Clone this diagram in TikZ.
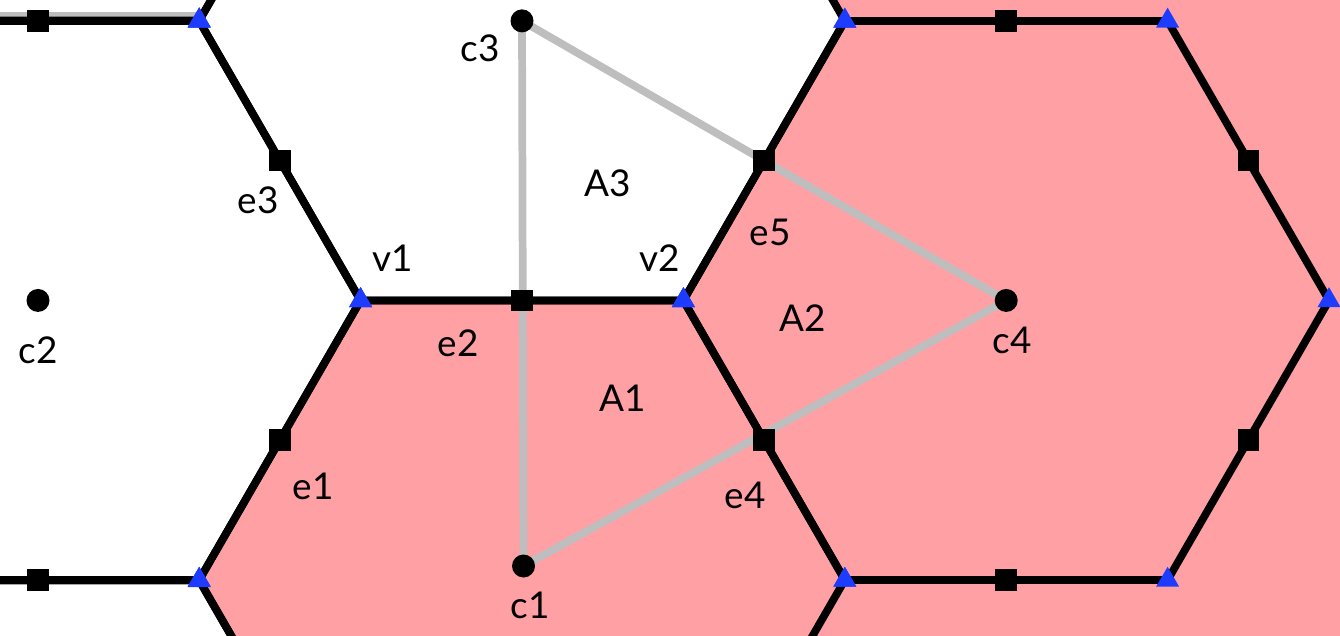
\documentclass[tikz,border=0pt]{standalone}
\usepackage{fontspec}
\setmainfont{Lato}
\usetikzlibrary{shapes.geometric,calc}
\definecolor{cellpink}{RGB}{255,160,165}
\definecolor{linkgray}{RGB}{190,190,190}
\definecolor{vertblue}{RGB}{30,60,255}
\newcommand{\hexside}{3.228}
\newcommand{\allcells}{0.378/3.3455, 0.378/8.941, 0.378/-2.25, 5.22/0.55, 5.22/6.141, 10.062/3.3455}
\newcommand{\pinkcells}{5.22/0.55, 10.062/3.3455, 10.062/8.941, 10.062/-2.25, 14.904/0.55, 14.904/6.141}

\begin{document}
\begin{tikzpicture}[
    cell/.style={fill=cellpink,draw=cellpink,line width=1pt},
    edge/.style={draw=black,line width=2.2pt,line join=round},
    link/.style={draw=linkgray,line width=2.2pt},
    vert/.style={regular polygon,regular polygon sides=3,fill=vertblue,inner sep=0pt,minimum size=0.265cm},
    mid/.style={rectangle,fill=black,inner sep=0pt,minimum size=0.215cm},
    cent/.style={circle,fill=black,inner sep=0pt,minimum size=0.23cm},
    lbl/.style={font=\fontsize{10.5}{12}\selectfont}]

    \useasboundingbox (0,0) rectangle (13.4,6.35);
    \clip (0,0) rectangle (13.4,6.35);

    % shaded cells
    \foreach \x/\y in \pinkcells
        \filldraw[cell,shift={(\x,\y)}] (0:\hexside) -- (60:\hexside) -- (120:\hexside) -- (180:\hexside) -- (240:\hexside) -- (300:\hexside) -- cycle;

    % links between cell centres
    \coordinate (p1) at (5.235,0.69);
    \coordinate (p2) at (0.38,3.3455);
    \coordinate (p3) at (5.22,6.141);
    \coordinate (p4) at (10.062,3.3455);
    \coordinate (g0) at (0,6.195);
    \coordinate (g1) at (2.0,6.195);
    \draw[link] (p3) -- (p1);
    \draw[link] (p3) -- (p4);
    \draw[link] (p1) -- (p4);
    \draw[link] (g0) -- (g1);

    % cell borders
    \foreach \x/\y in \allcells
        \draw[edge,shift={(\x,\y)}] (0:\hexside) -- (60:\hexside) -- (120:\hexside) -- (180:\hexside) -- (240:\hexside) -- (300:\hexside) -- cycle;

    % vertices and edge midpoints
    \foreach \x/\y [count=\i] in \allcells {
        \foreach \a in {0,60,...,300}
            \node[vert] (t\i-\a) at ($(\x,\y)+(\a:\hexside)$) {};
        \foreach \a in {30,90,...,330}
            \node[mid] (m\i-\a) at ($(\x,\y)+(\a:0.866*\hexside)$) {};
    }

    % centres
    \node[cent] (c1) at (p1) {};
    \node[cent] (c2) at (p2) {};
    \node[cent] (c3) at (p3) {};
    \node[cent] (c4) at (p4) {};

    % labels
    \node[lbl] (lc3) at (4.80,5.87) {c3};
    \node[lbl] (lc2) at (0.38,2.85) {c2};
    \node[lbl] (lc1) at (5.30,0.30) {c1};
    \node[lbl] (lc4) at (10.12,2.95) {c4};
    \node[lbl] (le3) at (2.58,4.35) {e3};
    \node[lbl] (lv1) at (3.93,3.77) {v1};
    \node[lbl] (lv2) at (6.60,3.77) {v2};
    \node[lbl] (lA3) at (6.08,4.52) {A3};
    \node[lbl] (le5) at (7.70,4.03) {e5};
    \node[lbl] (lA2) at (8.03,3.17) {A2};
    \node[lbl] (le2) at (4.58,2.92) {e2};
    \node[lbl] (lA1) at (6.23,2.37) {A1};
    \node[lbl] (le1) at (3.13,1.49) {e1};
    \node[lbl] (le4) at (7.45,1.40) {e4};
\end{tikzpicture}
\end{document}
